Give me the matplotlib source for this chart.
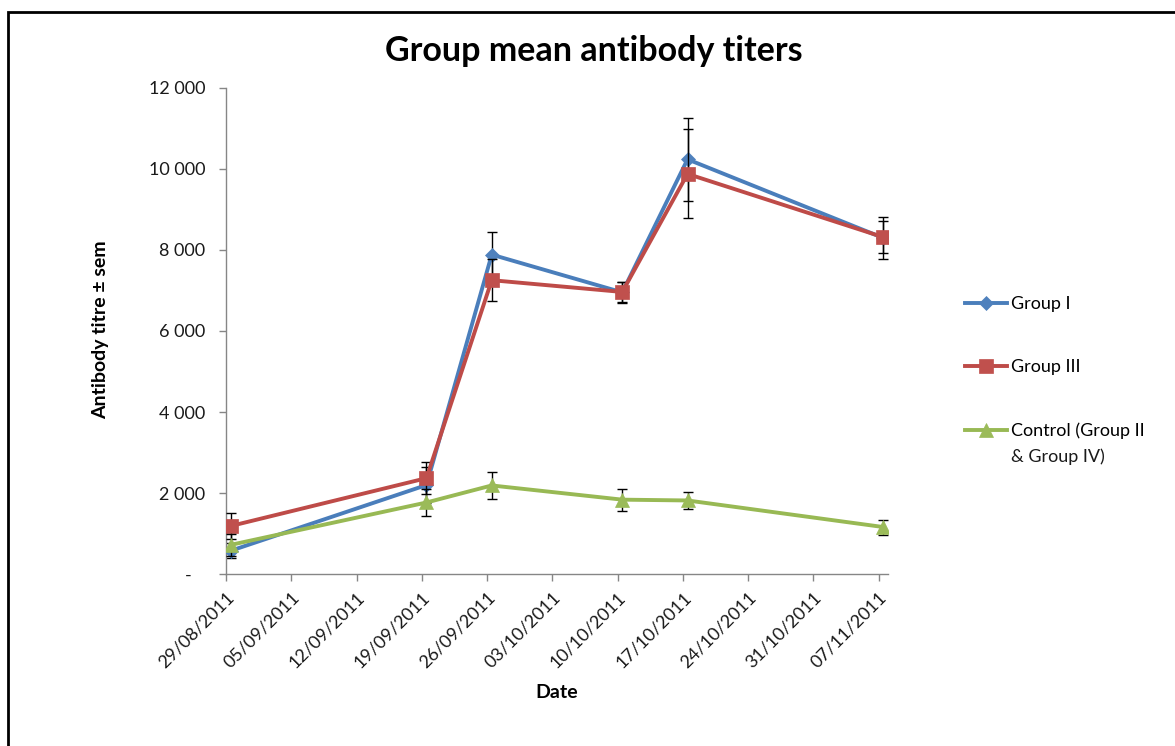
import matplotlib
matplotlib.use("Agg")
import matplotlib.pyplot as plt
import matplotlib.dates as mdates
from matplotlib.patches import Rectangle
from matplotlib.ticker import FuncFormatter, FixedLocator
from datetime import datetime, timedelta

# ---- data ----
sample_dates = ["29/08/2011", "19/09/2011", "26/09/2011", "10/10/2011", "17/10/2011", "07/11/2011"]
group1 = [580, 2200, 7880, 6950, 10230, 8290]
group1_sem = [185, 440, 550, 260, 1030, 510]
group3 = [1190, 2370, 7250, 6960, 9870, 8310]
group3_sem = [330, 400, 515, 250, 1095, 400]
control = [725, 1770, 2190, 1840, 1820, 1165]
control_sem = [270, 340, 340, 275, 215, 185]
tick_dates = ["29/08/2011", "05/09/2011", "12/09/2011", "19/09/2011", "26/09/2011", "03/10/2011",
              "10/10/2011", "17/10/2011", "24/10/2011", "31/10/2011", "07/11/2011"]
y_ticks = [0, 2000, 4000, 6000, 8000, 10000, 12000]
series_names = ["Group I", "Group III", "Control (Group II"]
control_name_line2 = "& Group IV)"

FONT = ["Lato", "DejaVu Sans"]
plt.rcParams['font.family'] = FONT

def to_dt(s):
    return datetime.strptime(s, "%d/%m/%Y")

# Excel date axis: points sit in the middle of the day slot
xs = [to_dt(s) + timedelta(hours=12) for s in sample_dates]
ticks = [to_dt(s) for s in tick_dates]

fig = plt.figure(figsize=(11.75, 7.46), dpi=100)
W, H = 1175, 746
ax = fig.add_axes([226 / W, 1 - 574.3 / H, (888 - 226) / W, (574.3 - 87.5) / H])

colors = ["#4A7EBB", "#BE4B48", "#98B954"]
mfaces = ["#4F81BD", "#C0504D", "#9BBB59"]
markers = ["D", "s", "^"]
msizes = [7.5, 10.5, 10.5]
vals = [group1, group3, control]
sems = [group1_sem, group3_sem, control_sem]

handles = []
for i in range(3):
    ax.errorbar(xs, vals[i], yerr=sems[i], fmt="none", ecolor="black", elinewidth=1.0,
                capsize=3.3, capthick=1.0, zorder=2 + i * 2)
    h, = ax.plot(xs, vals[i], color=colors[i], lw=2.8, marker=markers[i], ms=msizes[i],
                 markerfacecolor=mfaces[i], markeredgecolor=mfaces[i], markeredgewidth=0.5,
                 zorder=3 + i * 2, label=series_names[i])
    handles.append(h)

ax.set_xlim(to_dt("29/08/2011"), to_dt("08/11/2011"))
ax.set_ylim(0, 12000)
ax.xaxis.set_major_locator(FixedLocator([mdates.date2num(t) for t in ticks]))
ax.set_xticklabels(tick_dates, rotation=45, ha="right", rotation_mode="anchor", fontsize=13)
ax.set_yticks(y_ticks)
ax.yaxis.set_major_formatter(FuncFormatter(lambda v, p: "-   " if v == 0 else f"{int(v):,}".replace(",", " ")))

for lab in ax.get_yticklabels():
    lab.set_fontsize(13)

ax.spines["top"].set_visible(False)
ax.spines["right"].set_visible(False)
for s in ("left", "bottom"):
    ax.spines[s].set_color("#868686")
    ax.spines[s].set_linewidth(1.0)
ax.tick_params(axis="y", direction="out", length=5, width=1, color="#868686", pad=10, labelcolor="#1a1a1a")
ax.tick_params(axis="x", direction="out", length=5, width=1, color="#868686", pad=6, labelcolor="#1a1a1a")

ax.set_ylabel("Antibody titre ± sem", fontsize=14, fontweight="bold")
ax.set_xlabel("Date", fontsize=14, fontweight="bold")
ax.xaxis.set_label_coords((557 - 226) / (888 - 226), -(692 - 574.3) / (574.3 - 87.5))
ax.yaxis.set_label_coords(-(226 - 101) / (888 - 226), (574.3 - 330) / (574.3 - 87.5))
ax.yaxis.label.set_va("center")
ax.xaxis.label.set_va("center")

fig.text(594 / W, 1 - 51 / H, "Group mean antibody titers", ha="center", va="center",
         fontsize=24.5, fontweight="bold", color="black")

leg = fig.legend(handles=handles, loc="upper left", bbox_to_anchor=(965 / W, 1 - 296 / H),
                 frameon=False, fontsize=13, handlelength=2.3, handletextpad=0.25,
                 labelspacing=2.62, borderpad=0, borderaxespad=0)

# second line of the control label, placed just below the legend's last label
fig.canvas.draw()
renderer = fig.canvas.get_renderer()
bb = leg.get_texts()[2].get_window_extent(renderer)
fig.text(bb.x0 / W, (bb.y0 + bb.y1) / 2 / H - 26 / H, control_name_line2,
         ha="left", va="center", fontsize=13, color="#1a1a1a")

# outer chart border (left and top edges visible)
fig.add_artist(Rectangle((8 / W, -0.1), 1.2, 1 - 12 / H + 0.1, transform=fig.transFigure,
                         fill=False, edgecolor="black", linewidth=2, clip_on=False))

fig.savefig("out.png", dpi=100)
